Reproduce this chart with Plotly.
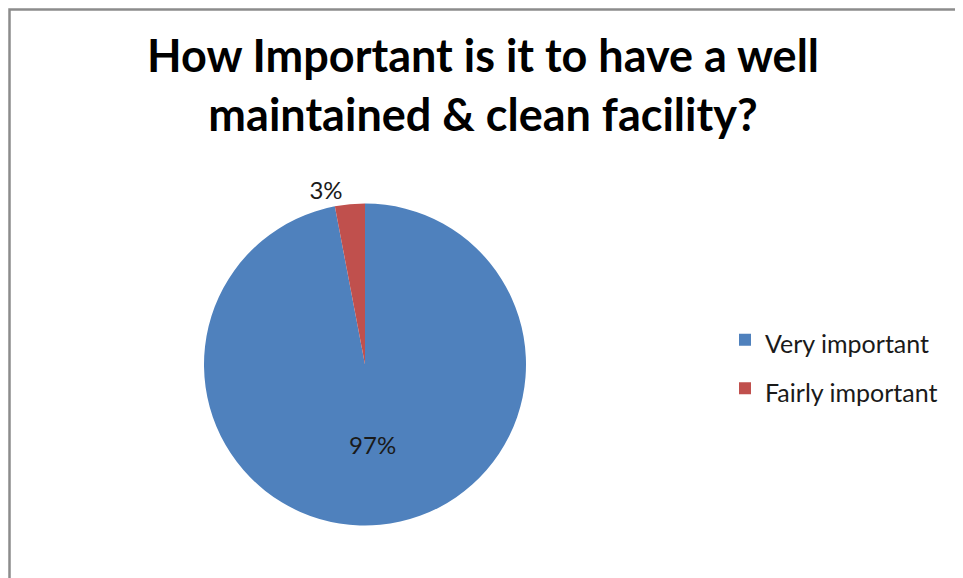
import plotly.graph_objects as go

categories = ["Very important", "Fairly important"]
values = [97, 3]
colors = ["#4F81BD", "#C0504D"]
title_text = "How Important is it to have a well<br>maintained & clean facility?"

W, H = 963, 578
OFF = 8  # page body margin offset
legend_labels = [f"<span style='font-size:25px'>{c}</span>" for c in categories]

fig = go.Figure(go.Pie(
    labels=legend_labels,
    values=values,
    marker=dict(colors=colors, line=dict(width=0)),
    sort=False,
    direction="clockwise",
    rotation=0,
    textinfo="percent",
    texttemplate="%{percent:.0%}",
    textposition=["inside", "outside"],
    textfont=dict(size=24, color="#1a1a1a", family="Lato"),
    insidetextorientation="horizontal",
    domain=dict(x=[(204 - OFF) / W, (526 - OFF) / W],
                y=[(H - (526 - OFF)) / H, (H - (203 - OFF)) / H]),
    hoverinfo="skip",
))

fig.update_layout(
    width=W, height=H,
    margin=dict(l=0, r=0, t=0, b=0),
    paper_bgcolor="white",
    plot_bgcolor="white",
    font=dict(family="Lato", color="#1a1a1a"),
    title=dict(
        text=title_text,
        x=(483 - OFF) / W, xanchor="center",
        y=1 - 64 / H, yanchor="top",
        font=dict(size=45, family="Lato", color="black", weight="bold"),
    ),
    legend=dict(
        x=717 / W, xanchor="left",
        y=1 - 356 / H, yanchor="middle",
        font=dict(size=35, family="Lato", color="#1a1a1a"),
        bgcolor="rgba(0,0,0,0)",
    ),
    showlegend=True,
    shapes=[dict(
        type="rect", xref="paper", yref="paper",
        x0=1.5 / W, x1=(957 - OFF) / W, y0=-0.05, y1=1 - 1.5 / H,
        line=dict(color="#8c8c8c", width=2.5),
        fillcolor="rgba(0,0,0,0)",
    )],
)

fig.write_html("out.html")
